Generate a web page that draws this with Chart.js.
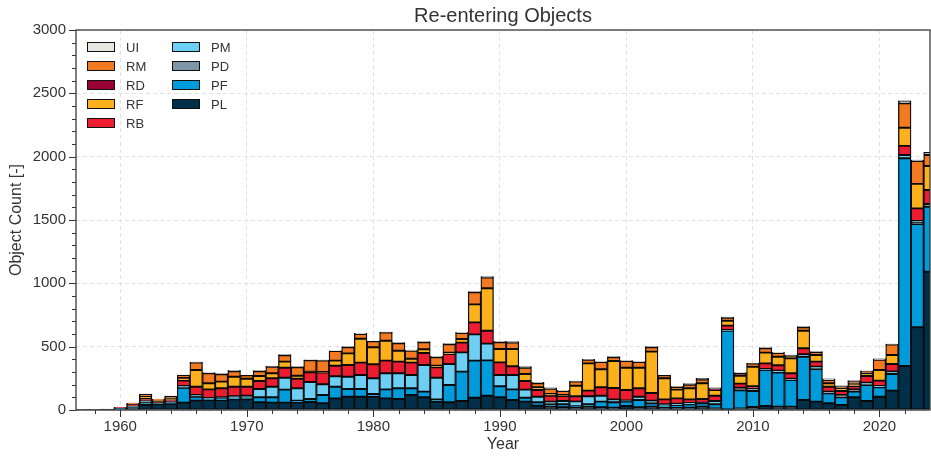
<!DOCTYPE html>
<html>
<head>
<meta charset="utf-8">
<script src="https://cdn.jsdelivr.net/npm/chart.js@4.4.1/dist/chart.umd.min.js"></script>
<style>
  html, body { margin: 0; padding: 0; background: #fff; }
  #wrap { width: 931px; height: 457px; }
</style>
</head>
<body>
<div id="wrap"><canvas id="chart" width="931" height="457"></canvas></div>
<script>
const years = [1957, 1958, 1959, 1960, 1961, 1962, 1963, 1964, 1965, 1966,
  1967, 1968, 1969, 1970, 1971, 1972, 1973, 1974, 1975, 1976,
  1977, 1978, 1979, 1980, 1981, 1982, 1983, 1984, 1985, 1986,
  1987, 1988, 1989, 1990, 1991, 1992, 1993, 1994, 1995, 1996,
  1997, 1998, 1999, 2000, 2001, 2002, 2003, 2004, 2005, 2006,
  2007, 2008, 2009, 2010, 2011, 2012, 2013, 2014, 2015, 2016,
  2017, 2018, 2019, 2020, 2021, 2022, 2023, 2024];

// stacked bottom -> top
const PL = [1, 2, 5, 10, 20, 40, 45, 50, 58, 74,
  79, 79, 84, 84, 61, 58, 58, 58, 63, 53,
  92, 105, 105, 105, 92, 87, 118, 100, 66, 61,
  71, 97, 113, 100, 79, 66, 34, 26, 21, 21,
  26, 21, 18, 32, 21, 26, 21, 16, 18, 26,
  12, 5, 12, 24, 32, 26, 26, 79, 66, 53,
  39, 100, 71, 105, 153, 347, 653, 1092];
const PF = [0, 0, 0, 3, 5, 18, 5, 8, 118, 31,
  8, 10, 11, 8, 39, 42, 103, 16, 24, 65,
  92, 61, 61, 21, 71, 84, 53, 45, 18, 136,
  232, 293, 279, 87, 84, 31, 27, 19, 24, 8,
  19, 45, 43, 34, 58, 27, 11, 23, 27, 27,
  33, 621, 143, 126, 284, 269, 211, 342, 258, 79,
  61, 45, 126, 74, 131, 1640, 816, 513];
const PD = [0, 0, 0, 0, 0, 0, 0, 0, 0, 0,
  0, 0, 0, 0, 0, 0, 0, 0, 0, 0,
  0, 0, 0, 0, 0, 0, 0, 0, 0, 0,
  0, 0, 0, 0, 0, 0, 0, 0, 0, 0,
  0, 0, 0, 0, 0, 0, 0, 0, 0, 0,
  0, 0, 21, 21, 0, 0, 10, 0, 0, 0,
  18, 18, 0, 0, 0, 0, 10, 21];
const PM = [0, 0, 0, 3, 5, 12, 5, 5, 14, 13,
  8, 11, 13, 21, 66, 84, 94, 97, 134, 85,
  82, 97, 110, 124, 127, 119, 105, 210, 171, 166,
  152, 207, 132, 89, 113, 64, 44, 21, 26, 39,
  63, 47, 23, 10, 26, 21, 13, 11, 10, 5,
  26, 6, 0, 0, 8, 16, 0, 19, 18, 13,
  0, 0, 19, 11, 21, 26, 13, 0];
const RB = [0, 0, 3, 5, 5, 20, 17, 17, 42, 66,
  68, 71, 76, 71, 63, 66, 79, 76, 76, 92,
  84, 92, 98, 111, 100, 92, 98, 95, 82, 79,
  77, 95, 102, 100, 69, 68, 53, 47, 40, 40,
  45, 66, 90, 82, 66, 60, 39, 42, 29, 29,
  42, 34, 32, 16, 44, 42, 43, 47, 40, 39,
  32, 24, 52, 42, 58, 72, 100, 111];
const RF = [0, 0, 0, 0, 5, 15, 5, 12, 15, 132,
  48, 53, 79, 63, 39, 40, 48, 24, 6, 5,
  40, 92, 189, 134, 157, 86, 31, 29, 13, 11,
  29, 142, 335, 106, 137, 55, 21, 13, 7, 84,
  215, 142, 213, 176, 163, 327, 166, 69, 87, 124,
  45, 39, 63, 155, 85, 68, 118, 139, 52, 27,
  21, 18, 22, 84, 71, 144, 193, 190];
const RD = [0, 0, 0, 0, 5, 0, 0, 0, 5, 0,
  0, 0, 0, 0, 0, 0, 0, 0, 0, 0,
  0, 0, 0, 0, 0, 0, 0, 0, 0, 0,
  0, 0, 0, 0, 0, 0, 0, 0, 0, 0,
  0, 0, 0, 0, 0, 0, 0, 0, 0, 0,
  10, 0, 19, 0, 0, 0, 0, 0, 0, 0,
  0, 0, 0, 0, 0, 0, 0, 0];
const RM = [0, 0, 0, 0, 10, 18, 10, 18, 24, 58,
  79, 58, 42, 27, 37, 52, 50, 66, 89, 90,
  76, 48, 37, 47, 64, 58, 63, 55, 66, 65,
  47, 95, 84, 52, 50, 50, 32, 42, 32, 32,
  29, 58, 29, 53, 45, 34, 24, 21, 29, 29,
  0, 24, 0, 24, 34, 29, 21, 27, 21, 26,
  13, 19, 18, 81, 82, 192, 181, 86];
const UI = [0, 0, 0, 0, 0, 3, 0, 0, 0, 5,
  5, 5, 8, 2, 6, 5, 5, 5, 5, 5,
  2, 5, 5, 3, 5, 6, 6, 6, 8, 6,
  5, 5, 8, 8, 8, 8, 7, 8, 5, 5,
  3, 3, 5, 3, 3, 5, 2, 5, 8, 10,
  8, 5, 5, 2, 5, 5, 5, 5, 6, 10,
  6, 8, 2, 6, 5, 19, 8, 22];

const xTicks = [1960, 1970, 1980, 1990, 2000, 2010, 2020];
const yTicks = [0, 500, 1000, 1500, 2000, 2500, 3000];

const series = [
  { name: 'PL', values: PL, color: '#003049' },
  { name: 'PF', values: PF, color: '#009bdb' },
  { name: 'PD', values: PD, color: '#7d97a9' },
  { name: 'PM', values: PM, color: '#6ecff5' },
  { name: 'RB', values: RB, color: '#ed1c30' },
  { name: 'RF', values: RF, color: '#fbb01c' },
  { name: 'RD', values: RD, color: '#990036' },
  { name: 'RM', values: RM, color: '#f47a21' },
  { name: 'UI', values: UI, color: '#e7e7e2' }
];
const legendCols = [['UI', 'RM', 'RD', 'RF', 'RB'], ['PM', 'PD', 'PF', 'PL']];

const FONT = "'Liberation Sans', Arial, sans-serif";
const INK = '#333333';

// frame, tick marks (major + minor) and legend
const decorations = {
  id: 'decorations',
  afterDraw(chart) {
    const { ctx, chartArea: a, scales: { x, y } } = chart;
    ctx.save();
    ctx.strokeStyle = INK;
    ctx.lineWidth = 1;
    ctx.beginPath();
    for (let v = 1958; v <= 2024; v += 2) {
      const px = Math.round(x.getPixelForValue(v)) + 0.5;
      if (px < a.left || px > a.right) continue;
      const len = v % 10 === 0 ? 7 : 4;
      ctx.moveTo(px, a.bottom);
      ctx.lineTo(px, a.bottom + len);
    }
    for (let v = 0; v <= 3000; v += 100) {
      const py = Math.round(y.getPixelForValue(v)) + 0.5;
      const len = v % 500 === 0 ? 7 : 4;
      ctx.moveTo(a.left, py);
      ctx.lineTo(a.left - len, py);
    }
    ctx.stroke();

    ctx.lineWidth = 1.3;
    ctx.strokeStyle = '#3a3a3a';
    ctx.strokeRect(a.left, a.top, a.right - a.left, a.bottom - a.top);

    // legend
    ctx.font = '13px ' + FONT;
    ctx.textBaseline = 'middle';
    ctx.textAlign = 'left';
    const colX = [87, 172];
    legendCols.forEach((col, ci) => {
      col.forEach((name, ri) => {
        const s = series.find(d => d.name === name);
        const cy = 47 + ri * 19;
        ctx.fillStyle = s.color;
        ctx.fillRect(colX[ci], cy - 5, 28, 10);
        ctx.strokeStyle = '#111';
        ctx.lineWidth = 1;
        ctx.strokeRect(colX[ci] + 0.5, cy - 4.5, 27, 9);
        ctx.fillStyle = INK;
        ctx.fillText(name, colX[ci] + 39, cy + 1);
      });
    });
    ctx.restore();
  }
};

new Chart(document.getElementById('chart'), {
  type: 'bar',
  data: {
    datasets: series.map(s => ({
      label: s.name,
      data: years.map((yr, i) => ({ x: yr, y: s.values[i] })),
      backgroundColor: s.color,
      borderColor: '#0a0a0a',
      borderWidth: 1.3,
      borderSkipped: false,
      barPercentage: 1,
      categoryPercentage: 1
    }))
  },
  options: {
    responsive: false,
    animation: false,
    layout: { padding: { left: 0, right: 1, top: 0, bottom: 0 } },
    plugins: {
      legend: { display: false },
      tooltip: { enabled: false },
      title: {
        display: true,
        fullSize: false,
        text: 'Re-entering Objects',
        color: INK,
        font: { family: FONT, size: 20, weight: 'normal' },
        padding: { top: 4, bottom: 2 }
      }
    },
    scales: {
      x: {
        type: 'linear',
        stacked: true,
        offset: false,
        min: 1956.5,
        max: 2024,
        afterBuildTicks: s => { s.ticks = xTicks.map(v => ({ value: v })); },
        afterFit: s => { s.height = 47; },
        ticks: { color: INK, font: { family: FONT, size: 15 }, padding: 8, maxRotation: 0,
          autoSkip: false, callback: v => String(v) },
        grid: { color: '#e2e2e2', lineWidth: 1, drawTicks: false, offset: false },
        border: { display: false, dash: [4, 3] },
        title: { display: true, text: 'Year', color: INK,
          font: { family: FONT, size: 16 }, padding: { top: 0, bottom: 3 } }
      },
      y: {
        stacked: true,
        min: 0,
        max: 3000,
        afterBuildTicks: s => { s.ticks = yTicks.map(v => ({ value: v })); },
        afterFit: s => { s.width = 76; },
        ticks: { color: INK, font: { family: FONT, size: 15 }, padding: 10,
          callback: v => String(v) },
        grid: { color: '#e2e2e2', lineWidth: 1, drawTicks: false },
        border: { display: false, dash: [4, 3] },
        title: { display: true, text: 'Object Count [-]', color: INK,
          font: { family: FONT, size: 16 }, padding: { top: 7, bottom: 0 } }
      }
    }
  },
  plugins: [decorations]
});
</script>
</body>
</html>
